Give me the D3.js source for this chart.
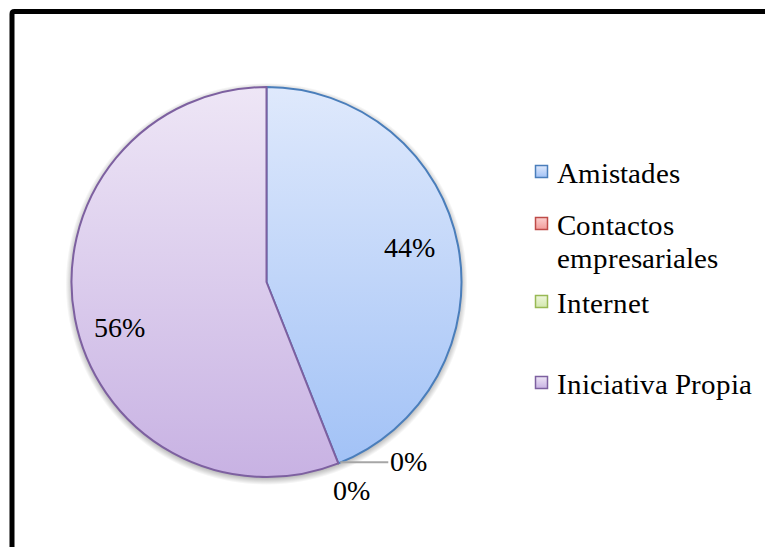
<!DOCTYPE html>
<html>
<head>
<meta charset="utf-8">
<script src="https://cdn.jsdelivr.net/npm/d3@7"></script>
<style>
  @font-face {
    font-family: "ChartSerif";
    src: local("Liberation Serif"), local("LiberationSerif"), local("LiberationSerif-Regular"), local("Times New Roman");
  }
  html, body { margin: 0; padding: 0; background: #fff; }
  svg { display: block; }
  svg text { font-family: "ChartSerif", "Liberation Serif", serif; }
</style>
</head>
<body>
<svg id="chart" width="765" height="547"></svg>
<script>
// Fuente de clientes
const categories = ["Amistades", "Contactos empresariales", "Internet", "Iniciativa Propia"];
const values = [44, 0, 0, 56];
const labels = ["44%", "0%", "0%", "56%"];

// Slice look: gradient top/bottom and outline colour per category
const sliceTop = ["#dfe9fc", "#fbd0cf", "#eef6dc", "#eee6f6"];
const sliceBottom = ["#a2c2f6", "#f29b99", "#d3e8ae", "#c8b2e3"];
const sliceStroke = ["#4a7ebb", "#be4b48", "#98b954", "#7d60a0"];

const svg = d3.select("#chart");
const defs = svg.append("defs");

categories.forEach((c, i) => {
  const g = defs.append("linearGradient")
    .attr("id", "grad" + i).attr("x1", 0).attr("y1", 0).attr("x2", 0).attr("y2", 1);
  g.append("stop").attr("offset", "0%").attr("stop-color", sliceTop[i]);
  g.append("stop").attr("offset", "100%").attr("stop-color", sliceBottom[i]);
});

const cx = 266.5, cy = 282, R = 195, halo = 6;

// soft shadow ring behind the pie
const sh = defs.append("radialGradient").attr("id", "pieShadow")
  .attr("gradientUnits", "userSpaceOnUse").attr("cx", 0).attr("cy", 0).attr("r", R + halo);
sh.append("stop").attr("offset", (R - 2) / (R + halo)).attr("stop-color", "#000").attr("stop-opacity", 0.3);
sh.append("stop").attr("offset", 1).attr("stop-color", "#000").attr("stop-opacity", 0);

// Outer frame
svg.append("path")
  .attr("d", "M12,560 L12,14 Q12,11.5 14.5,11.5 L780,11.5")
  .attr("fill", "none").attr("stroke", "#000").attr("stroke-width", 5);

const g = svg.append("g").attr("transform", `translate(${cx},${cy})`);

g.append("circle").attr("cx", 0).attr("cy", 0).attr("r", R + halo)
  .attr("transform", "translate(0,2)").attr("fill", "url(#pieShadow)");

const pie = d3.pie().sort(null).value(d => d.v);
const arcs = pie(values.map((v, i) => ({ v, i })));
const arc = d3.arc().innerRadius(0).outerRadius(R);

// zero-sized slices first so the visible slices sit on top
const order = arcs.slice().sort((a, b) => (a.value === 0 ? 0 : 1) - (b.value === 0 ? 0 : 1));
g.append("g").selectAll("path").data(order).join("path")
  .attr("d", arc)
  .attr("fill", d => `url(#grad${d.data.i})`)
  .attr("stroke", d => sliceStroke[d.data.i])
  .attr("stroke-width", 2)
  .attr("stroke-linejoin", "round");

// Data labels (inside labels nudged to their best-fit spot)
const labelArc = d3.arc().innerRadius(152).outerRadius(152);
const nudge = [[-6, -6], [0, 0], [0, 0], [2, 18]];
const label = (x, y, anchor, txt) =>
  g.append("text").attr("x", x).attr("y", y).attr("text-anchor", anchor)
    .style("font-size", "28px").attr("fill", "#000").text(txt);

arcs.forEach((d, i) => {
  const mid = (d.startAngle + d.endAngle) / 2;
  if (d.value > 0) {
    const [x, y] = labelArc.centroid(d);
    label(x + nudge[i][0], y + nudge[i][1] + 9, "middle", labels[i]);
  } else if (i === 1) {
    // leader line to the label outside the rim
    const px = Math.sin(mid) * R, py = -Math.cos(mid) * R;
    g.append("line").attr("x1", px + 2).attr("y1", py - 1).attr("x2", px + 50).attr("y2", py - 1)
      .attr("stroke", "#a6a6a6").attr("stroke-width", 2);
    label(px + 52, py + 8, "start", labels[i]);
  } else {
    const r = 220;
    label(Math.sin(mid) * r + 4, -Math.cos(mid) * r + 13, "middle", labels[i]);
  }
});

// Legend
const legendLines = [["Amistades"], ["Contactos", "empresariales"], ["Internet"], ["Iniciativa Propia"]];
const legendY = [183, 235, 313, 394];
const leg = svg.append("g");
categories.forEach((c, i) => {
  leg.append("rect").attr("x", 535.5).attr("y", legendY[i] - 17.5).attr("width", 12).attr("height", 12)
    .attr("fill", `url(#grad${i})`).attr("stroke", sliceStroke[i]).attr("stroke-width", 1.5);
  const t = leg.append("text").attr("x", 557).attr("y", legendY[i])
    .style("font-size", "29px").attr("fill", "#000");
  legendLines[i].forEach((line, k) => {
    t.append("tspan").attr("x", 557).attr("dy", k === 0 ? 0 : 33).text(line);
  });
});
</script>
</body>
</html>
